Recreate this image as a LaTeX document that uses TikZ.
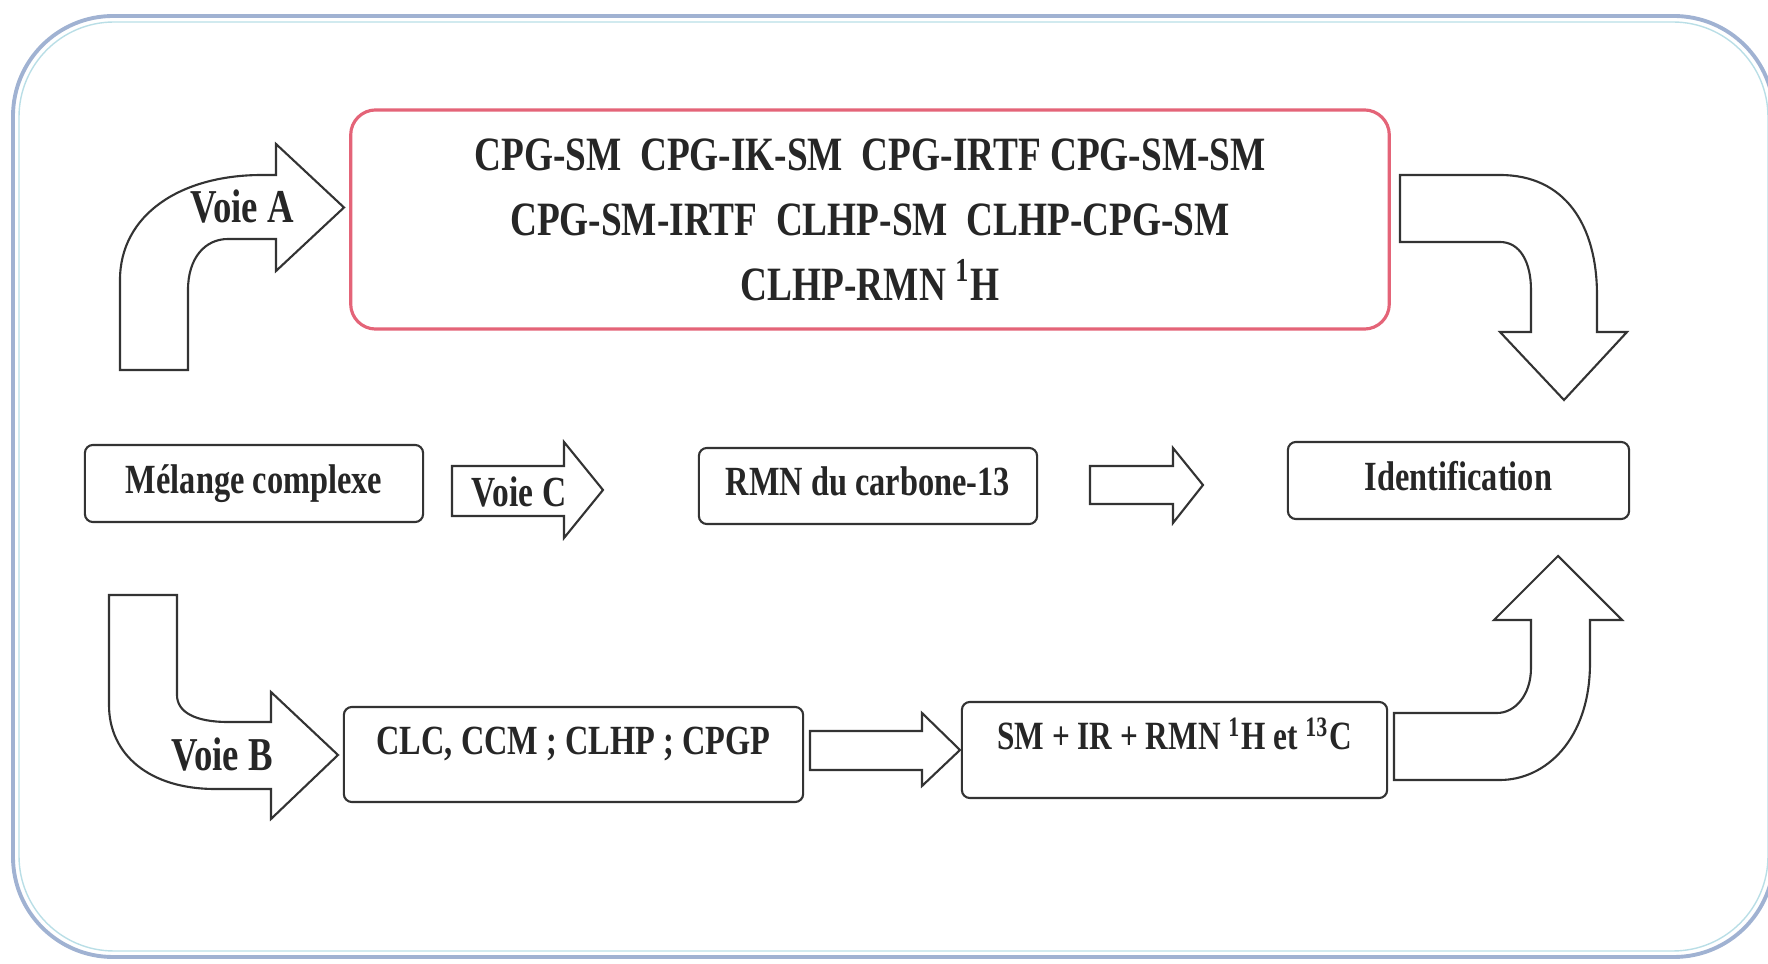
\documentclass[tikz,border=0pt]{standalone}
\usepackage{fontspec}
\setmainfont{Liberation Serif}[FakeStretch=0.78]
\definecolor{framebl}{RGB}{160,178,210}
\definecolor{framecy}{RGB}{185,222,230}
\definecolor{boxred}{RGB}{228,100,120}
\tikzset{
  box/.style={draw=black!80, line width=0.6pt, rounded corners=0.08cm, font=\fontsize{11.8}{14}\selectfont\bfseries, text=black!85},
  fat/.style={draw=black!80, line width=0.6pt, fill=white, line join=miter},
  way/.style={font=\fontsize{13.4}{16}\selectfont\bfseries, text=black!85},
}
\begin{document}
\begin{tikzpicture}[x=0.01cm,y=-0.01cm]
\useasboundingbox (0,0) rectangle (1768,964);
%outer frame
\draw[framebl,line width=1.1pt,rounded corners=1cm](13,16) rectangle (1774,957);
\draw[framecy,line width=0.4pt,rounded corners=0.95cm](19,22) rectangle (1768,951);
%techniques of route A
\node[draw=boxred, line width=0.9pt, rounded corners=0.25cm, minimum width=10.38cm, minimum height=2.19cm, align=center,
  font=\fontsize{13.6}{18.5}\selectfont\bfseries, text=black!85] (tech) at (870,219.5)
  {CPG-SM\ \ CPG-IK-SM\ \ CPG-IRTF CPG-SM-SM\\CPG-SM-IRTF\ \ CLHP-SM\ \ CLHP-CPG-SM\\CLHP-RMN \textsuperscript{1}H};
%middle row
\node[box, minimum width=3.38cm, minimum height=0.77cm, text height=0.3cm, text depth=0.1cm] (mix) at (254,483.5) {Mélange complexe};
\node[box, minimum width=3.38cm, minimum height=0.76cm, text height=0.3cm, text depth=0.1cm] (cmr) at (868,486) {RMN du carbone-13};
\node[box, minimum width=3.41cm, minimum height=0.77cm, text height=0.3cm, text depth=0.1cm] (ident) at (1458.5,480.5) {Identification};
%bottom row
\node[box, minimum width=4.59cm, minimum height=0.95cm, text height=0.3cm, text depth=0.3cm] (sep) at (573.5,754.5) {CLC, CCM ; CLHP ; CPGP};
\node[box, minimum width=4.25cm, minimum height=0.96cm, text height=0.3cm, text depth=0.3cm, font=\fontsize{11.4}{14}\selectfont\bfseries] (spec) at (1174.5,750) {SM + IR + RMN \textsuperscript{1}H et \textsuperscript{13}C};
%route A, bent up
\draw[fat] (120,370) -- (120,280) .. controls (120,215) and (180,175) .. (262,175) -- (276,175) --++(0,-31) -- (344,207.5) -- (276,271) --++(0,-32) -- (228,239) .. controls (205,239) and (188,258) .. (188,290) -- (188,370) -- cycle;
\node[way] (wayA) at (242,207) {Voie A};
%back down to identification
\draw[fat] (1400,175) -- (1500,175) .. controls (1565,175) and (1597,225) .. (1597,295) -- (1597,332) --++(30,0) -- (1564,400) -- (1500,332) --++(31,0) -- (1531,290) .. controls (1531,262) and (1520,242) .. (1500,242) -- (1400,242) -- cycle;
%route C
\draw[fat] (452,466) --++(112,0) --++(0,-24) --++(39,48) --++(-39,48) --++(0,-22) --++(-112,0) -- cycle;
\node[way, font=\fontsize{12.2}{14}\selectfont\bfseries] (wayC) at (519,492) {Voie C};
\draw[fat] (1090,466) --++(83,0) --++(0,-18) --++(30,37) --++(-30,38) --++(0,-19) --++(-83,0) -- cycle;
%route B, bent down
\draw[fat] (109,595) -- (177,595) -- (177,695) .. controls (177,712) and (195,722) .. (228,722) -- (271,722) --++(0,-30) -- (338,755) -- (271,819) --++(0,-30) -- (215,789) .. controls (150,789) and (109,755) .. (109,705) -- cycle;
\node[way] (wayB) at (222,755) {Voie B};
\draw[fat] (810,731) --++(112,0) --++(0,-18) --++(38,37) --++(-38,36) --++(0,-16) --++(-112,0) -- cycle;
%up to identification
\draw[fat] (1394,713) -- (1497,713) .. controls (1515,713) and (1531,695) .. (1531,668) -- (1531,620) --++(-37,0) -- (1558,556) -- (1622,620) --++(-32,0) -- (1590,663) .. controls (1590,740) and (1545,780) .. (1500,780) -- (1394,780) -- cycle;
\end{tikzpicture}
\end{document}
